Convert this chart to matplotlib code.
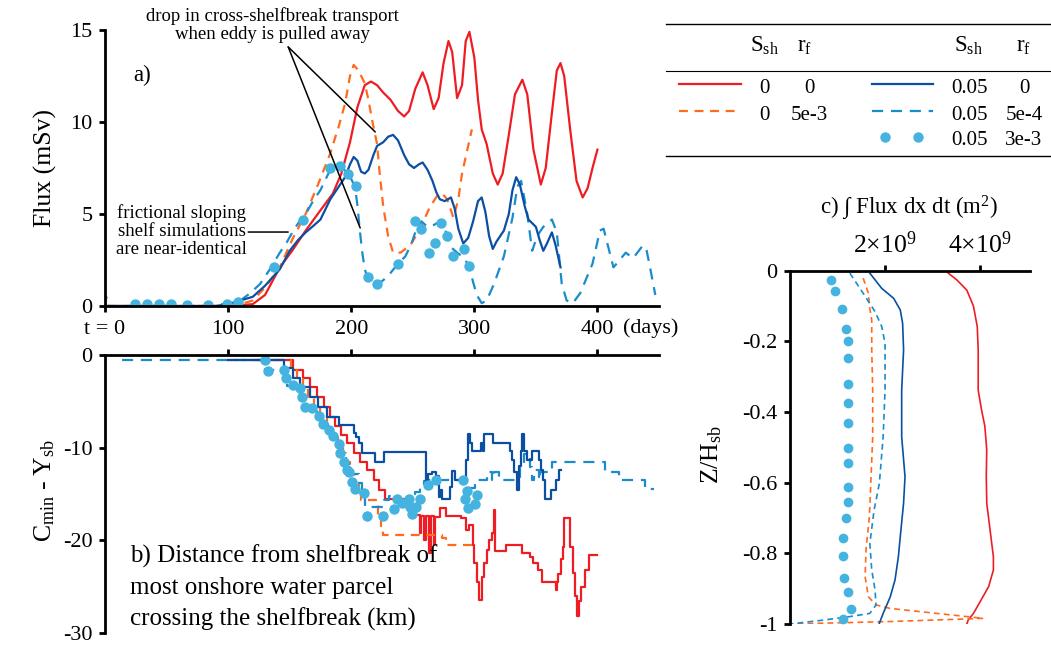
import numpy as np
import matplotlib
matplotlib.use('Agg')
import matplotlib.pyplot as plt
from matplotlib.lines import Line2D

plt.rcParams['font.family'] = ['Liberation Serif', 'DejaVu Serif']
plt.rcParams['mathtext.fontset'] = 'custom'
plt.rcParams['mathtext.rm'] = 'Liberation Serif'
plt.rcParams['mathtext.it'] = 'Liberation Serif:italic'
plt.rcParams['axes.unicode_minus'] = False

RED = '#ee1d23'
ORANGE = '#ff6a1f'
NAVY = '#0b4fa3'
BLUE = '#1a8ccc'
CYAN = '#45b3df'

# ---------------- a) flux (mSv) vs days ----------------
red_t = [0, 100, 120, 130, 142, 152, 163, 175, 185, 192, 199, 205, 211, 216, 221, 226, 232, 238, 243, 247,
         252, 258, 262, 267, 271, 275, 279, 282, 286, 290, 293, 296, 300, 303, 306, 310, 315, 319, 323, 328,
         333, 339, 343, 348, 354, 358, 363, 367, 370, 373, 378, 383, 388, 392, 396, 400]
red_f = [0, 0, 0.1, 0.6, 2.1, 3.0, 4.1, 5.2, 6.1, 7.2, 8.9, 10.8, 12.0, 12.2, 12.0, 11.6, 11.2, 10.6, 10.3, 10.6,
         11.8, 12.7, 12.0, 10.7, 11.3, 13.2, 14.4, 13.8, 11.3, 12.0, 14.4, 14.9, 13.5, 11.2, 9.6, 8.8, 7.2, 6.6, 7.2, 9.3,
         11.5, 12.3, 11.5, 8.5, 6.6, 7.5, 10.5, 12.8, 13.2, 12.5, 9.5, 6.8, 5.9, 6.4, 7.5, 8.5]

orange_t = [0, 100, 110, 120, 130, 142, 152, 163, 173, 183, 190, 195, 199, 202, 206, 211, 214, 217, 221, 223,
            226, 230, 234, 240, 248, 256, 264, 270, 274, 278, 283, 287, 290, 294, 298]
orange_f = [0, 0, 0.1, 0.3, 1.0, 2.1, 3.6, 5.0, 6.6, 8.3, 9.8, 11.0, 12.5, 13.1, 12.8, 12.1, 11.2, 10.1, 8.8, 7.3,
            5.4, 3.8, 2.9, 2.9, 3.3, 4.2, 5.4, 6.0, 6.1, 5.8, 4.8, 5.8, 7.2, 8.4, 9.6]

navy_t = [0, 90, 100, 110, 120, 130, 142, 150, 157, 163, 170, 175, 183, 190, 195, 199, 202, 205, 208, 211,
          214, 218, 221, 226, 230, 234, 238, 243, 247, 251, 255, 258, 262, 266, 269, 272, 276, 281, 284, 287,
          291, 295, 299, 303, 306, 309, 312, 315, 318, 324, 328, 331, 334, 337, 341, 344, 350, 353, 356, 359,
          363, 366, 370]
navy_f = [0, 0, 0.1, 0.3, 0.5, 1.1, 2.0, 3.0, 3.6, 4.0, 4.4, 4.7, 5.8, 6.5, 7.0, 7.7, 8.1, 7.9, 7.3, 7.2,
          7.4, 8.2, 8.7, 8.9, 9.2, 9.3, 9.0, 8.2, 7.7, 7.5, 7.7, 7.8, 7.4, 6.8, 6.2, 5.8, 5.7, 5.9, 5.3, 4.2,
          3.4, 3.7, 4.6, 5.7, 5.9, 5.1, 3.8, 3.1, 3.5, 4.1, 5.0, 6.3, 7.0, 6.6, 5.4, 4.7, 4.3, 3.6, 3.0, 3.4,
          4.0, 3.3, 2.1]

blue_t = [0, 1, 2, 80, 90, 100, 110, 118, 126, 134, 142, 148, 153, 158, 163, 169, 175, 180, 183, 187,
          192, 197, 200, 203, 205, 207, 209, 211, 214, 218, 222, 226, 232, 238, 244, 249, 253, 257, 262, 267,
          272, 276, 281, 286, 292, 296, 299, 302, 306, 310, 316, 324, 331, 335, 338, 343, 347, 351, 356, 363,
          367, 371, 375, 380, 386, 396, 402, 405, 413, 423, 429, 437, 440, 443, 447]
blue_f = [0, 0.5, 0, 0, 0.05, 0.15, 0.3, 0.7, 1.2, 2.0, 2.9, 3.5, 4.1, 4.6, 5.0, 5.7, 6.3, 7.0, 7.4, 7.7,
          7.6, 7.2, 6.9, 6.5, 5.5, 4.1, 2.9, 2.0, 1.4, 1.2, 1.2, 1.4, 1.8, 2.3, 2.7, 3.4, 4.2, 4.6, 4.3, 4.4,
          4.6, 4.2, 3.2, 2.9, 2.6, 2.1, 1.3, 0.6, 0.15, 0.3, 1.2, 2.7, 4.8, 6.5, 6.8, 5.0, 3.0, 3.8, 4.3, 4.7,
          4.0, 1.2, 0.3, 0.15, 0.7, 2.3, 4.1, 4.2, 2.1, 2.9, 2.6, 3.3, 3.0, 2.0, 0.6]

dots_t = [24, 34, 44, 54, 67, 84, 99, 108, 137, 161, 183, 191, 197, 204, 214, 221, 238, 252, 257, 263,
          268, 273, 278, 283, 292, 296]
dots_f = [0.1, 0.1, 0.1, 0.1, 0.05, 0.05, 0.1, 0.2, 2.1, 4.7, 7.5, 7.6, 7.2, 6.5, 1.6, 1.2, 2.3, 4.6, 4.2, 2.9,
          3.4, 4.5, 3.8, 2.7, 3.1, 2.2]

# ---------------- b) C_min - Y_sb (km), step series ----------------
red_bt = [120, 152.6, 160.7, 166.7, 172, 178, 183, 187, 191.6, 196.5, 201.9, 207.3, 212.7, 218.1, 222.2, 227.6,
          245, 250.7, 256, 257, 259.5, 260.5, 263.5, 264.5, 267, 268, 272, 277, 289, 293, 296,
          299, 300, 302, 304, 306, 308, 310, 312, 314, 316, 317, 326, 327, 339, 340, 345, 348, 352, 355,
          366, 367, 368, 370, 372, 373, 378, 380, 382, 383, 385, 387, 390, 393, 400]
red_bv = [-0.5, -1.6, -2.5, -3.4, -4.5, -5.6, -6.65, -7.7, -8.6, -9.5, -10.6, -11.6, -12.4, -13.5, -14.6, -15.5,
          -16.2, -17.3, -19.2, -17.4, -20.0, -17.4, -21.4, -17.4, -20.5, -17.5, -16.5, -17.4, -17.6, -18.9, -18.3,
          -20.5, -22.5, -24.5, -26.4, -24.0, -22.5, -21.0, -20.0, -19.2, -16.7, -21.2, -20.5, -20.5, -21.4, -21.4, -21.8, -22.5, -23.2, -24.5,
          -25.4, -24.5, -23.6, -22.0, -20.7, -17.6, -20.7, -23.5, -26.0, -28.2, -26.5, -25.0, -23.2, -21.6, -21.6]

navy_bt = [100, 145, 153, 158.5, 166.7, 173.4, 180.2, 189.7, 201.9, 204, 206, 208.7, 219.5, 226.3, 261, 262.5,
           266, 269, 271, 272.4, 273.7, 280, 282, 284, 293, 294.5, 296.5, 298, 305.5, 307, 308, 315, 329.3,
           331, 332.5, 334.5, 336.5, 338, 339, 340.5, 342.5, 346.5, 352.3, 354, 355.5, 357.5, 362.5, 366.5,
           368.5, 370]
navy_bv = [-0.5, -1.45, -2.5, -3.4, -4.5, -5.6, -6.65, -7.55, -8.45, -8.8, -9.5, -10.6, -11.5, -10.5, -13.8, -12.8,
           -12.6, -13.1, -15.3, -14.6, -15.5, -14.2, -12.5, -13.5, -11.3, -8.5, -9.5, -10.4, -9.5, -10.4, -8.5, -9.5, -10.4,
           -11.3, -12.6, -14.6, -12.0, -10.4, -8.5, -10.4, -11.3, -10.4, -11.3, -12.4, -13.5, -15.5, -14.6, -13.5,
           -12.4, -12.4]

blue_bt = [14, 130, 145, 148, 152.6, 158.5, 161, 166, 172, 177, 181, 185, 188.4, 190.5, 193, 196, 198.6, 200.5,
           206, 209, 211, 227, 231, 235, 239, 244, 248, 252, 256, 259, 263, 295.4, 300.8, 310.3, 314.4, 315.7,
           319.8, 337.4, 340, 345, 346.9, 348.2, 352.3, 353.7, 363.2, 406.5, 417.3, 439, 446]
blue_bv = [-0.5, -1.6, -2.5, -3.3, -3.7, -4.7, -5.6, -5.8, -6.6, -7.4, -8.1, -8.7, -9.4, -10.2, -10.9, -11.7, -12.4, -12.8,
           -13.8, -15.3, -16.4, -15.6, -15.2, -15.8, -15.2, -15.8, -15.2, -14.8, -14.2, -13.6, -13.5, -14.4, -13.5, -12.6, -13.5, -12.6,
           -13.5, -12.05, -10.7, -12.05, -13.5, -12.4, -13.5, -12.6, -11.5, -12.6, -13.5, -14.5, -14.5]

orange_bt = [100, 151, 156, 161, 165, 170, 175, 180, 184, 189, 193, 196, 199, 203, 206, 208, 222, 224, 226,
             274, 277, 298]
orange_bv = [-0.5, -1.6, -2.6, -3.5, -4.5, -5.6, -6.6, -7.6, -8.6, -9.6, -10.6, -11.6, -12.9, -14.0, -14.9, -15.6,
             -17.4, -18.5, -19.4, -19.8, -20.5, -20.5]

dots_bt = [130, 132.8, 145, 147.2, 152.6, 158, 159.9, 162.6, 168, 174.2, 177, 181.6, 185.6, 189.7, 191, 193.8,
           196.5, 197.8, 200.5, 203.3, 210, 212.7, 225.7, 235, 237, 241, 246.6, 248, 249.3, 252.6, 256, 262.3,
           269, 290.8, 292.7, 294, 294.6, 300.3, 302.2]
dots_bv = [-0.5, -1.7, -1.6, -2.5, -3.2, -3.6, -4.5, -5.6, -5.75, -6.6, -7.4, -8.1, -8.7, -9.6, -10.6, -11.5,
           -12.4, -12.6, -13.7, -14.5, -14.85, -17.4, -17.4, -16.6, -15.5, -16.0, -15.5, -16.4, -17.2, -16.4, -15.5, -14.0,
           -13.5, -13.5, -15.5, -14.7, -16.5, -16.1, -15.1]

# ---------------- c) integrated flux profile (1e9 m^2) vs Z/H_sb ----------------
red_cx = [3.33, 3.51, 3.72, 3.86, 3.94, 3.96, 3.96, 4.03, 4.10, 4.14, 4.13, 4.14, 4.21, 4.28, 4.28, 4.18, 4.00, 3.86, 3.75, 3.72]
red_cz = [-0.007, -0.026, -0.055, -0.10, -0.158, -0.224, -0.338, -0.394, -0.44, -0.507, -0.583, -0.658, -0.734, -0.81,
          -0.847, -0.894, -0.937, -0.97, -0.989, -1.0]
navy_cx = [1.68, 1.93, 2.18, 2.32, 2.37, 2.39, 2.35, 2.35, 2.42, 2.39, 2.32, 2.28, 2.21, 2.11, 1.96, 1.88]
navy_cz = [-0.007, -0.05, -0.078, -0.111, -0.149, -0.224, -0.338, -0.47, -0.583, -0.658, -0.753, -0.81, -0.875,
           -0.923, -0.97, -0.998]
blue_cx = [1.26, 1.54, 1.79, 1.93, 2.0, 2.0, 1.96, 1.88, 1.77, 1.68, 1.72, 1.79, 1.81, 1.68, 1.26, 0.70, 0.0]
blue_cz = [-0.007, -0.064, -0.116, -0.158, -0.206, -0.338, -0.47, -0.602, -0.677, -0.772, -0.847, -0.904, -0.946,
           -0.97, -0.979, -0.989, -1.0]
orange_cx = [1.54, 1.65, 1.67, 1.72, 1.72, 1.74, 1.74, 1.70, 1.67, 1.60, 1.58, 1.65, 1.81, 2.11, 4.07, 2.11, 0.0]
orange_cz = [-0.021, -0.064, -0.10, -0.14, -0.224, -0.338, -0.47, -0.602, -0.696, -0.79, -0.866, -0.923, -0.946,
             -0.956, -0.984, -0.993, -1.0]
dots_cx = [0.86, 0.95, 1.09, 1.18, 1.21, 1.21, 1.23, 1.23, 1.23, 1.23, 1.23, 1.23, 1.21, 1.18, 1.12, 1.11, 1.14, 1.22, 1.28, 1.12]
dots_cz = [-0.025, -0.058, -0.107, -0.165, -0.2, -0.246, -0.321, -0.375, -0.432, -0.503, -0.545, -0.613, -0.656,
           -0.699, -0.757, -0.807, -0.871, -0.91, -0.957, -0.986]

W, H = 1051, 645
fig = plt.figure(figsize=(W / 100, H / 100), dpi=100)

def px(x0, y0, x1, y1):
    return [x0 / W, 1 - y1 / H, (x1 - x0) / W, (y1 - y0) / H]

ax_a = fig.add_axes(px(105, 30, 659, 306))
ax_b = fig.add_axes(px(105, 355, 659, 633))
ax_c = fig.add_axes(px(790, 270.7, 1030, 624))

LW = 1.6
TICK = 16

for ax in (ax_a, ax_b, ax_c):
    for s in ax.spines.values():
        s.set_linewidth(2.0)
    ax.tick_params(width=2.0, length=4, labelsize=TICK, direction='out', pad=5)

# panel a
ax_a.plot(red_t, red_f, color=RED, lw=LW)
ax_a.plot(orange_t, orange_f, color=ORANGE, lw=LW, dashes=(4, 3))
ax_a.plot(blue_t, blue_f, color=BLUE, lw=LW, dashes=(5, 3.5))
ax_a.plot(navy_t, navy_f, color=NAVY, lw=LW)
ax_a.plot(dots_t, dots_f, ls='none', marker='o', ms=7.5, color=CYAN, mec='none')
ax_a.set_xlim(0, 450)
ax_a.set_ylim(0, 15)
ax_a.spines['top'].set_visible(False)
ax_a.spines['right'].set_visible(False)
ax_a.set_xticks([0, 100, 200, 300, 400])
ax_a.set_xticklabels(['t = 0', '100', '200', '300', '400'])
ax_a.set_yticks([0, 5, 10, 15])
ax_a.tick_params(axis='x', pad=6)
ax_a.text(443, -0.08, '(days)', transform=ax_a.get_xaxis_transform(), ha='center', va='center', fontsize=TICK)
ax_a.set_ylabel('Flux (mSv)', fontsize=18.5)
ax_a.yaxis.set_label_coords(-0.086, 0.5)
ax_a.text(30, 12.55, 'a)', fontsize=16.5, ha='center', va='center')
ax_a.text(135.8, 15.27, 'drop in cross-shelfbreak transport\nwhen eddy is pulled away', fontsize=13.5,
          ha='center', va='center', linespacing=1.05, clip_on=False)
ax_a.annotate('', xy=(219.5, 9.46), xytext=(148.8, 14.08), arrowprops=dict(arrowstyle='-', lw=1.1, color='black',
              shrinkA=0, shrinkB=0), annotation_clip=False)
ax_a.annotate('', xy=(207.3, 4.24), xytext=(148.8, 14.08), arrowprops=dict(arrowstyle='-', lw=1.1, color='black',
              shrinkA=0, shrinkB=0), annotation_clip=False)
ax_a.text(115.4, 4.08, 'frictional sloping\nshelf simulations\nare near-identical', fontsize=13.5,
          ha='right', va='center', multialignment='center', linespacing=1.05)
ax_a.annotate('', xy=(148.8, 4.02), xytext=(116.3, 4.02), arrowprops=dict(arrowstyle='-', lw=1.1, color='black',
              shrinkA=0, shrinkB=0))

# panel b
ax_b.step(red_bt, red_bv, where='post', color=RED, lw=LW)
ax_b.step(orange_bt, orange_bv, where='post', color=ORANGE, lw=LW, dashes=(4, 3))
ax_b.step(blue_bt, blue_bv, where='post', color=BLUE, lw=LW, dashes=(5, 3.5))
ax_b.step(navy_bt, navy_bv, where='post', color=NAVY, lw=LW)
ax_b.plot(dots_bt, dots_bv, ls='none', marker='o', ms=7.5, color=CYAN, mec='none')
ax_b.set_xlim(0, 450)
ax_b.set_ylim(-30, 0)
ax_b.spines['bottom'].set_visible(False)
ax_b.spines['right'].set_visible(False)
ax_b.xaxis.tick_top()
ax_b.set_xticks([100, 200, 300, 400])
ax_b.tick_params(axis='x', labeltop=False)
ax_b.set_yticks([0, -10, -20, -30])
ax_b.set_ylabel(r'$\mathregular{C_{min}\ \text{-}\ Y_{sb}}$', fontsize=18.5)
ax_b.yaxis.set_label_coords(-0.086, 0.514)
ax_b.text(20.3, -20.5, 'b) Distance from shelfbreak of\nmost onshore water parcel\ncrossing the shelfbreak (km)',
          fontsize=18, ha='left', va='top', linespacing=1.48)

# panel c
LWC = 1.2
ax_c.plot(np.array(red_cx) * 1e9, red_cz, color=RED, lw=LWC)
ax_c.plot(np.array(orange_cx) * 1e9, orange_cz, color=ORANGE, lw=LWC, dashes=(3.5, 2.5))
ax_c.plot(np.array(blue_cx) * 1e9, blue_cz, color=BLUE, lw=LWC, dashes=(3.5, 2.5))
ax_c.plot(np.array(navy_cx) * 1e9, navy_cz, color=NAVY, lw=LWC)
ax_c.plot(np.array(dots_cx) * 1e9, dots_cz, ls='none', marker='o', ms=7, color=CYAN, mec='none')
ax_c.set_xlim(0, 5.05e9)
ax_c.set_ylim(-1, 0)
ax_c.spines['bottom'].set_visible(False)
ax_c.spines['right'].set_visible(False)
ax_c.xaxis.tick_top()
ax_c.set_xticks([2e9, 4e9])
ax_c.set_xticklabels([r'$\mathregular{2{\times}10^9}$', r'$\mathregular{4{\times}10^9}$'], fontsize=18.5)
ax_c.tick_params(axis='x', pad=5)
ax_c.set_yticks([0, -0.2, -0.4, -0.6, -0.8, -1])
ax_c.set_yticklabels(['0', '-0.2', '-0.4', '-0.6', '-0.8', '-1'])
ax_c.set_ylabel(r'$\mathregular{Z/H_{sb}}$', fontsize=18.5)
ax_c.yaxis.set_label_coords(-0.275, 0.48)
fig.text(909 / W, 1 - 208 / H, 'c) \u222b Flux dx dt (m$^2$)', fontsize=16.5, ha='center', va='center')

# legend table
def fx(x):
    return x / W

def fy(y):
    return 1 - y / H

for y, lw in ((24, 1.0), (71, 0.8), (155.5, 1.0)):
    fig.add_artist(Line2D([fx(666), fx(1051)], [fy(y), fy(y)], color='black', lw=lw))
LEG = 15
fig.text(fx(764), fy(52), r'$\mathregular{S_{sh}}$', fontsize=16.5, ha='center', va='baseline')
fig.text(fx(805), fy(52), r'$\mathregular{r_f}$', fontsize=16.5, ha='center', va='baseline')
fig.text(fx(968), fy(52), r'$\mathregular{S_{sh}}$', fontsize=16.5, ha='center', va='baseline')
fig.text(fx(1024), fy(52), r'$\mathregular{r_f}$', fontsize=16.5, ha='center', va='baseline')

fig.add_artist(Line2D([fx(679), fx(741)], [fy(84), fy(84)], color=RED, lw=LW))
fig.add_artist(Line2D([fx(679), fx(741)], [fy(111), fy(111)], color=ORANGE, lw=LW, dashes=(4, 3)))
fig.add_artist(Line2D([fx(872), fx(933)], [fy(84), fy(84)], color=NAVY, lw=LW))
fig.add_artist(Line2D([fx(872), fx(933)], [fy(111), fy(111)], color=BLUE, lw=LW, dashes=(5, 3.5)))
fig.add_artist(Line2D([fx(885), fx(918)], [fy(137.5), fy(137.5)], ls='none', marker='o', ms=7.5, color=CYAN, mec='none'))

rows = [(93, '0', '0', '0.05', '0'), (120, '0', '5e-3', '0.05', '5e-4'), (145, None, None, '0.05', '3e-3')]
for y, a, b, c, d in rows:
    if a is not None:
        fig.text(fx(764), fy(y), a, fontsize=LEG, ha='center', va='baseline')
        fig.text(fx(809), fy(y), b, fontsize=LEG, ha='center', va='baseline')
    fig.text(fx(969), fy(y), c, fontsize=LEG, ha='center', va='baseline')
    fig.text(fx(1024), fy(y), d, fontsize=LEG, ha='center', va='baseline')

fig.savefig('out.png', dpi=100)
